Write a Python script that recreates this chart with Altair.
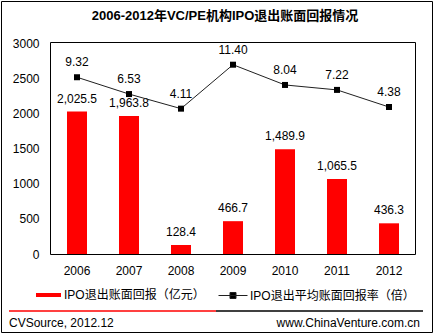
import altair as alt
import pandas as pd

years = ['2006', '2007', '2008', '2009', '2010', '2011', '2012']
returns = [2025.5, 1963.8, 128.4, 466.7, 1489.9, 1065.5, 436.3]
multiples = [9.32, 6.53, 4.11, 11.40, 8.04, 7.22, 4.38]
bar_name = 'IPO退出账面回报（亿元）'
line_name = 'IPO退出平均账面回报率（倍）'
title_text = '2006-2012年VC/PE机构IPO退出账面回报情况'
y_ticks = [0, 500, 1000, 1500, 2000, 2500, 3000]
source_text = 'CVSource, 2012.12'
site_text = 'www.ChinaVenture.com.cn'

FONT = 'Liberation Sans, Noto Sans CJK SC'

df = pd.DataFrame({'year': years, 'ret': returns, 'mult': multiples,
                   's1': [bar_name] * len(years), 's2': [line_name] * len(years)})
one = pd.DataFrame({'a': [0]})

x = alt.X('year:N', sort=years, title=None,
          scale=alt.Scale(paddingInner=0, paddingOuter=0),
          axis=alt.Axis(labelAngle=0, ticks=False, tickSize=0, labelPadding=11,
                        domain=False, grid=False))

yl = alt.Y('ret:Q', scale=alt.Scale(domain=[0, 3000]),
           axis=alt.Axis(values=y_ticks, format='d', ticks=False, tickSize=0, grid=False,
                         labelPadding=12, domain=False, title=None))
yr = alt.Y('mult:Q', scale=alt.Scale(domain=[-20, 15]), axis=None)

base = alt.Chart(df)

bar_sym = 'M-1,-0.16L1,-0.16L1,0.16L-1,0.16Z'
line_sym = 'M-1,0L1,0M-0.207,-0.207L0.207,-0.207L0.207,0.207L-0.207,0.207Z'

bars = base.mark_bar(size=20).encode(
    x=x, y=yl,
    fill=alt.Fill('s1:N', scale=alt.Scale(domain=[bar_name], range=['#ff0000']),
                  legend=alt.Legend(orient='none', legendX=-15, legendY=239.5, title=None,
                                    symbolType=bar_sym, symbolSize=625, symbolStrokeWidth=0,
                                    labelFont=FONT, labelFontSize=12, labelColor='black',
                                    labelOffset=3, labelLimit=400, padding=0)))
bar_labels = base.mark_text(baseline='middle', dy=-13, fontSize=12, font=FONT, color='black').encode(
    x=x, y=yl, text=alt.Text('ret:Q', format=',.1f'))

line = base.mark_line(strokeWidth=1).encode(
    x=x, y=yr,
    stroke=alt.Stroke('s2:N', scale=alt.Scale(domain=[line_name], range=['#202020']),
                      legend=alt.Legend(orient='none', legendX=167, legendY=237.5, title=None,
                                        symbolType=line_sym, symbolSize=841, symbolStrokeWidth=1,
                                        symbolFillColor='black',
                                        labelFont=FONT, labelFontSize=12, labelColor='black',
                                        labelOffset=2, labelLimit=400, padding=0)))
points = base.mark_point(shape='square', filled=True, size=36, color='black', opacity=1).encode(
    x=x, y=yr)
line_labels = base.mark_text(baseline='middle', dy=-15, fontSize=12, font=FONT, color='black').encode(
    x=x, y=yr, text=alt.Text('mult:Q', format='.2f'))

frame = alt.Chart(one).mark_rect(fillOpacity=0, stroke='black', strokeWidth=1).encode(
    x=alt.value(-0.5), x2=alt.value(364.5), y=alt.value(-0.5), y2=alt.value(211.5))
border = alt.Chart(one).mark_rect(fillOpacity=0, stroke='black', strokeWidth=1).encode(
    x=alt.value(-49.5), x2=alt.value(381.5), y=alt.value(-41.5), y2=alt.value(289.5))
title = alt.Chart(one).mark_text(align='center', baseline='middle', fontSize=13, font=FONT,
                                 fontWeight='bold', color='black').encode(
    x=alt.value(174), y=alt.value(-27), text=alt.value(title_text))
sep_red = alt.Chart(one).mark_rule(color='#ff0000', strokeWidth=1.5).encode(
    x=alt.value(-42), x2=alt.value(165), y=alt.value(268))
sep_black = alt.Chart(one).mark_rule(color='black', strokeWidth=1.5).encode(
    x=alt.value(165), x2=alt.value(372), y=alt.value(268))
src = alt.Chart(one).mark_text(align='left', baseline='middle', fontSize=12, font=FONT,
                               color='black').encode(
    x=alt.value(-42), y=alt.value(280), text=alt.value(source_text))
site = alt.Chart(one).mark_text(align='right', baseline='middle', fontSize=12, font=FONT,
                                color='black').encode(
    x=alt.value(369), y=alt.value(280), text=alt.value(site_text))

chart = alt.layer(
    alt.layer(bars, bar_labels),
    alt.layer(line, points, line_labels),
    frame, border, title, sep_red, sep_black, src, site,
).resolve_scale(y='independent').properties(
    width=364, height=211,
    padding={'left': 51, 'top': 43, 'right': 20, 'bottom': 81},
    autosize=alt.AutoSizeParams(type='none'),
    background='white',
).configure_view(strokeWidth=0).configure_axis(
    labelFont=FONT, labelFontSize=12, labelColor='black')

chart.save('out.html', embed_options={'renderer': 'svg', 'actions': False})
